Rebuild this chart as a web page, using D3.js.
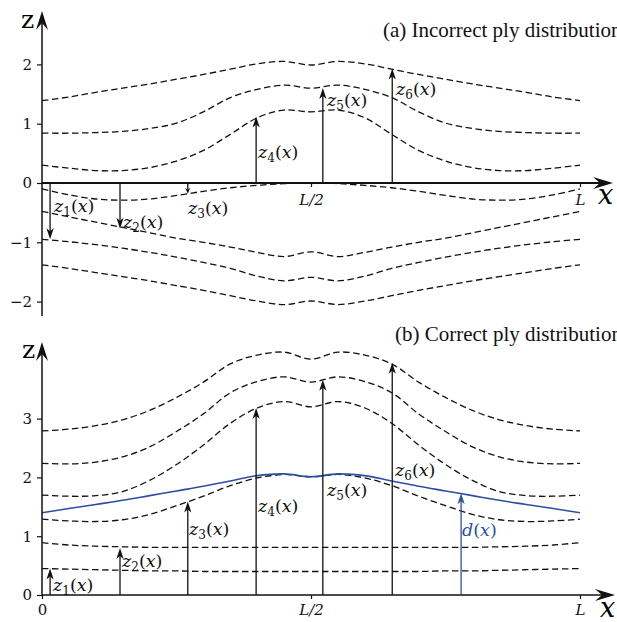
<!DOCTYPE html>
<html><head><meta charset="utf-8">
<script src="https://cdn.jsdelivr.net/npm/d3@7"></script>
<style>html,body{margin:0;padding:0;background:#fff;}svg{display:block;}</style>
</head><body>
<svg id="chart" width="617" height="622"></svg>
<script>
// ---------- data ----------
const tKnots = [0,0.05,0.1,0.15,0.2,0.25,0.3,0.35,0.4,0.45,0.5,0.55,0.6,0.65,0.7,0.75,0.8,0.85,0.9,0.95,1];

// panel (a): incorrect ply distribution (interfaces, bottom to top)
const a0 = [-1.38,-1.44,-1.51,-1.58,-1.65,-1.73,-1.81,-1.90,-1.99,-2.05,-1.99,-2.05,-1.99,-1.90,-1.81,-1.73,-1.65,-1.58,-1.51,-1.44,-1.38];
const a1 = [-0.95,-0.99,-1.04,-1.10,-1.17,-1.25,-1.34,-1.44,-1.57,-1.65,-1.59,-1.65,-1.57,-1.44,-1.34,-1.25,-1.17,-1.10,-1.04,-0.99,-0.95];
const a2 = [-0.48,-0.57,-0.66,-0.75,-0.84,-0.93,-1.00,-1.08,-1.17,-1.24,-1.16,-1.24,-1.17,-1.08,-1.00,-0.93,-0.84,-0.75,-0.66,-0.57,-0.48];
const a3 = [-0.10,-0.20,-0.27,-0.29,-0.27,-0.21,-0.14,-0.08,-0.04,-0.01,0.00,-0.01,-0.04,-0.08,-0.14,-0.21,-0.27,-0.29,-0.27,-0.20,-0.10];
const a4 = [0.30,0.25,0.21,0.21,0.26,0.37,0.55,0.82,1.10,1.23,1.20,1.23,1.10,0.82,0.55,0.37,0.26,0.21,0.21,0.25,0.30];
const a5 = [0.84,0.84,0.85,0.87,0.92,1.01,1.20,1.44,1.58,1.65,1.60,1.65,1.58,1.44,1.20,1.01,0.92,0.87,0.85,0.84,0.84];
const a6 = [1.39,1.45,1.53,1.60,1.67,1.75,1.83,1.92,2.01,2.05,1.99,2.05,2.01,1.92,1.83,1.75,1.67,1.60,1.53,1.45,1.39];

// panel (b): correct ply distribution
const b1 = [0.45,0.44,0.43,0.42,0.41,0.41,0.40,0.40,0.40,0.40,0.40,0.40,0.40,0.40,0.40,0.41,0.41,0.42,0.43,0.44,0.45];
const b2 = [0.89,0.85,0.83,0.82,0.81,0.81,0.81,0.81,0.81,0.81,0.81,0.81,0.81,0.81,0.81,0.81,0.81,0.82,0.83,0.85,0.89];
const b3 = [1.29,1.26,1.25,1.28,1.37,1.52,1.68,1.86,1.99,2.05,2.01,2.05,1.99,1.86,1.68,1.52,1.37,1.28,1.25,1.26,1.29];
const b4 = [1.70,1.68,1.69,1.76,1.95,2.22,2.55,2.92,3.18,3.29,3.20,3.29,3.18,2.92,2.55,2.22,1.95,1.76,1.69,1.68,1.70];
const b5 = [2.24,2.23,2.26,2.35,2.52,2.78,3.08,3.44,3.63,3.71,3.62,3.71,3.63,3.44,3.08,2.78,2.52,2.35,2.26,2.23,2.24];
const b6 = [2.79,2.82,2.88,2.98,3.14,3.36,3.62,3.93,4.08,4.13,4.01,4.13,4.08,3.93,3.62,3.36,3.14,2.98,2.88,2.82,2.79];
const dLine = [1.40,1.47,1.54,1.61,1.69,1.77,1.85,1.94,2.03,2.06,2.01,2.06,2.03,1.94,1.85,1.77,1.69,1.61,1.54,1.47,1.40];

// arrows z_i(x): position along x (fraction of L) and tip value
const arrowT = [0.015,0.145,0.271,0.398,0.522,0.651];
const arrowA = [-0.95,-0.77,-0.18,1.12,1.60,1.93];
const arrowB = [0.45,0.80,1.59,3.18,3.66,3.95];
const dArrowT = 0.779, dArrowZ = 1.73;

const yTicksA = [-2,-1,0,1,2];
const yTicksB = [0,1,2,3];
const xTicksA = [0.5,1];
const xTicksB = [0,0.5,1];
const xTickLabel = {0:"0",0.5:"L/2",1:"L"};
const titleA = "(a) Incorrect ply distribution";
const titleB = "(b) Correct ply distribution";

// ---------- drawing ----------
const svg = d3.select("#chart");
const x = d3.scaleLinear().domain([0,1]).range([42,580]);
const yA = d3.scaleLinear().domain([-2,2]).range([301.6,64.4]);
const yB = d3.scaleLinear().domain([0,3]).range([595,418.6]);
const BLUE = "#2c4ea3";
const SERIF = "'DejaVu Serif', serif";

function arrowHead(g, x1, y1, x2, y2, len, half, notch, color){
  const a = Math.atan2(y2-y1, x2-x1);
  const ca=Math.cos(a), sa=Math.sin(a);
  const p = (u,v)=>[x2 + u*ca - v*sa, y2 + u*sa + v*ca];
  const pts=[p(0,0),p(-len,half),p(-len+notch,0),p(-len,-half)];
  g.append("path").attr("d","M"+pts.map(q=>q.join(",")).join("L")+"Z").attr("fill",color).attr("stroke","none");
}
function arrow(g, x1,y1,x2,y2, opts){
  const o = Object.assign({len:11,half:3.6,notch:3,color:"#111",width:1.3},opts||{});
  const a=Math.atan2(y2-y1,x2-x1);
  g.append("line").attr("x1",x1).attr("y1",y1)
   .attr("x2",x2-Math.cos(a)*(o.len-o.notch)).attr("y2",y2-Math.sin(a)*(o.len-o.notch))
   .attr("stroke",o.color).attr("stroke-width",o.width);
  arrowHead(g,x1,y1,x2,y2,o.len,o.half,o.notch,o.color);
}
function zLabel(g, px, py, sub, color){
  const t = g.append("text").attr("x",px).attr("y",py)
    .attr("font-family",SERIF).attr("font-size",17.5).attr("fill",color||"#111");
  if (sub==="d"){
    t.append("tspan").attr("font-style","italic").text("d");
    t.append("tspan").text("(");
  } else {
    t.append("tspan").attr("font-style","italic").text("z");
    t.append("tspan").attr("font-size",12).attr("dy",4).text(sub);
    t.append("tspan").attr("dy",-4).text("(");
  }
  t.append("tspan").attr("font-style","italic").text("x");
  t.append("tspan").text(")");
}

function drawCurves(g, y, series){
  const line = d3.line().x((d,i)=>x(tKnots[i])).y(d=>y(d)).curve(d3.curveCatmullRom.alpha(0.5));
  series.forEach(s=>{
    g.append("path").attr("d",line(s)).attr("fill","none").attr("stroke","#111")
     .attr("stroke-width",1.3).attr("stroke-dasharray","6.5,3.5");
  });
  return line;
}

function drawAxes(g, y, yTicks, xTicks, yTop, yBottom, xAxisWidth, xTip, pad){
  const ay = d3.axisLeft(y).tickValues(yTicks).tickSize(5).tickPadding(5)
     .tickFormat(d=> d<0 ? "\u2212"+Math.abs(d) : String(d));
  const gy = g.append("g").attr("transform","translate(42,0)").call(ay);
  gy.select(".domain").remove();
  gy.selectAll("text").attr("font-family",SERIF).attr("font-size",15).attr("fill","#111");
  gy.selectAll("line").attr("stroke","#111").attr("stroke-width",1.2);
  const ax = d3.axisBottom(x).tickValues(xTicks).tickSize(4).tickPadding(pad)
     .tickFormat(d=>xTickLabel[d]);
  const gx = g.append("g").attr("transform","translate(0,"+y(0)+")").call(ax);
  gx.select(".domain").remove();
  gx.selectAll("text").attr("font-family",SERIF).attr("font-size",15)
     .attr("font-style",d=>d===0?"normal":"italic").attr("fill","#111");
  gx.selectAll("line").attr("stroke","#111").attr("stroke-width",1.2);
  arrow(g, 42, y(0), xTip, y(0), {len:20,half:6,notch:7,width:xAxisWidth,color:"#111"});
  g.append("line").attr("x1",42).attr("x2",42).attr("y1",yBottom).attr("y2",yTop+12).attr("stroke","#111").attr("stroke-width",1.5);
  arrowHead(g,42,yBottom,42,yTop,19,6,7,"#111");
}

// ---- panel (a)
const gA = svg.append("g");
drawCurves(gA, yA, [a0,a1,a2,a3,a4,a5,a6]);
drawAxes(gA, yA, yTicksA, xTicksA, 11, 316, 2, 613, 7);
arrowT.forEach((t,i)=>{
  const z = arrowA[i];
  const small = Math.abs(z)<0.3;
  arrow(gA, x(t), yA(0), x(t), yA(z), small?{len:6,half:2.6,notch:2}:{});
});
const labA = [[54,212],[123,228],[188,214],[258,158],[327,106],[396,95]];
labA.forEach((p,i)=> zLabel(gA, p[0], p[1], String(i+1)));
gA.append("text").attr("x",21).attr("y",28).attr("font-family",SERIF).attr("font-size",25).text("z");
gA.append("text").attr("x",598).attr("y",204).attr("font-family",SERIF).attr("font-size",27).attr("font-style","italic").text("x");
gA.append("text").attr("x",383).attr("y",37).attr("font-family","'Liberation Serif', serif").attr("font-size",21).attr("fill","#111").text(titleA);

// ---- panel (b)
const gB = svg.append("g");
const lineB = drawCurves(gB, yB, [b1,b2,b3,b4,b5,b6]);
gB.append("path").attr("d",lineB(dLine)).attr("fill","none").attr("stroke",BLUE).attr("stroke-width",1.6);
drawAxes(gB, yB, yTicksB, xTicksB, 342, 595, 1.5, 615, 5);
arrowT.forEach((t,i)=> arrow(gB, x(t), yB(0), x(t), yB(arrowB[i])));
arrow(gB, x(dArrowT), yB(0), x(dArrowT), yB(dArrowZ), {color:BLUE});
const labB = [[53,591],[122,567],[189,535],[258,512],[327,496],[395,476]];
labB.forEach((p,i)=> zLabel(gB, p[0], p[1], String(i+1)));
zLabel(gB, 462, 536, "d", BLUE);
gB.append("text").attr("x",22).attr("y",358).attr("font-family",SERIF).attr("font-size",25).text("z");
gB.append("text").attr("x",600).attr("y",617).attr("font-family",SERIF).attr("font-size",27).attr("font-style","italic").text("x");
gB.append("text").attr("x",395).attr("y",341).attr("font-family","'Liberation Serif', serif").attr("font-size",21).attr("fill","#111").text(titleB);
</script>
</body></html>
